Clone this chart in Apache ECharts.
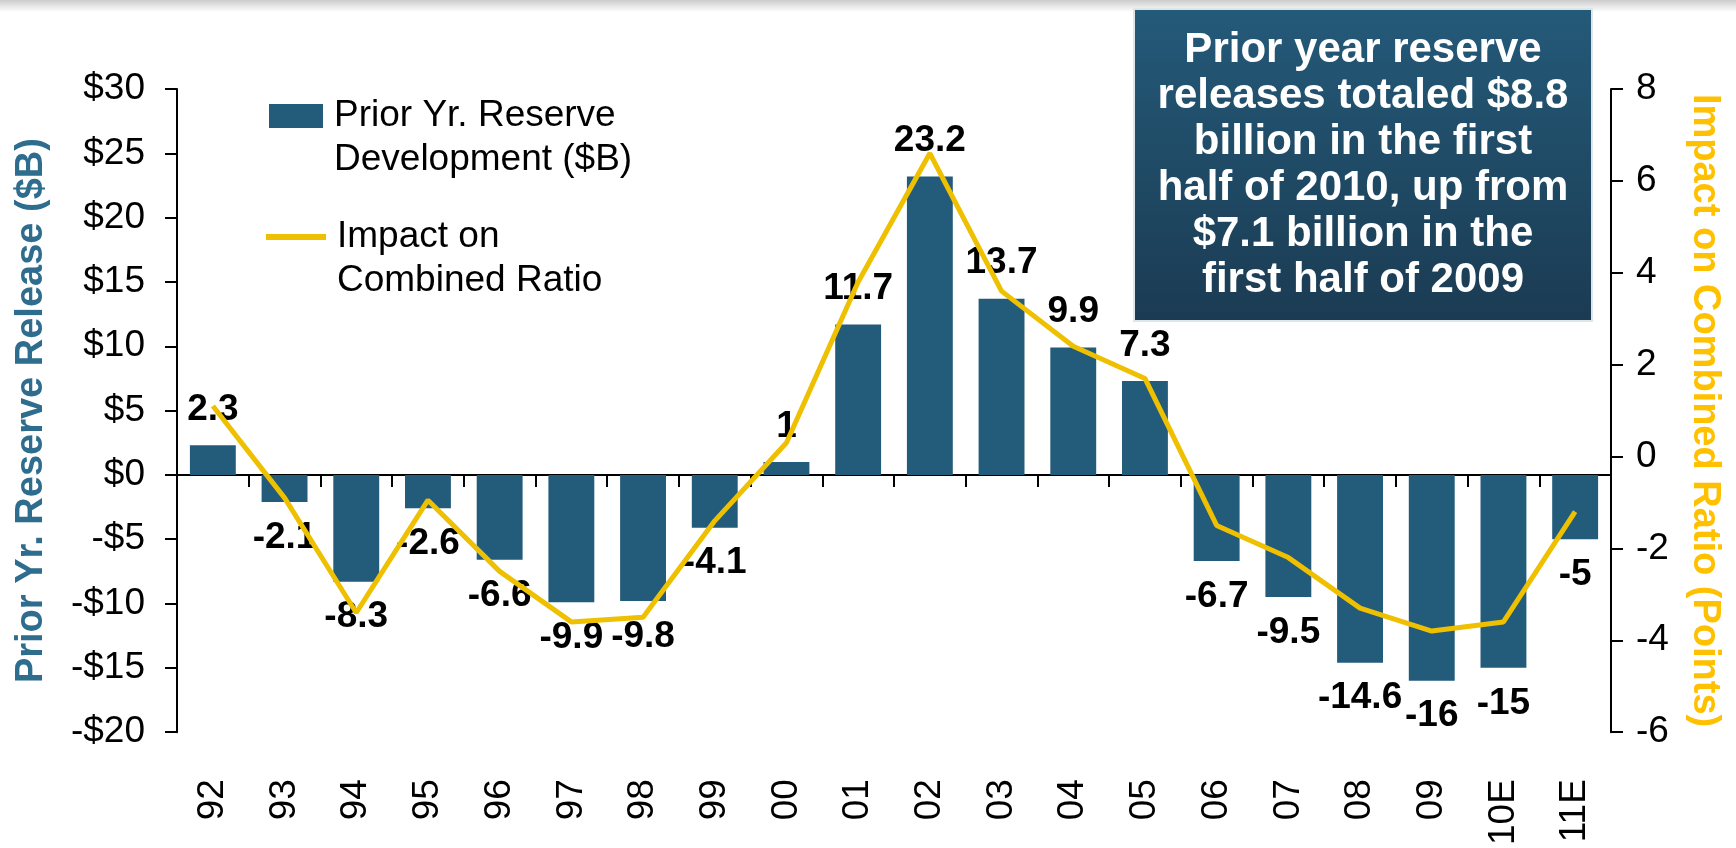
<!DOCTYPE html>
<html>
<head>
<meta charset="utf-8">
<script src="https://cdn.jsdelivr.net/npm/echarts@6/dist/echarts.min.js"></script>
<style>
    html, body { margin: 0; padding: 0; background: #fff; }
    #container { width: 1736px; height: 848px; }
</style>
</head>
<body>
<div id="container"></div>
<script>
// 数据
var years = ['92', '93', '94', '95', '96', '97', '98', '99', '00', '01',
    '02', '03', '04', '05', '06', '07', '08', '09', '10E', '11E'];
var reserveDev = [2.3, -2.1, -8.3, -2.6, -6.6, -9.9, -9.8, -4.1, 1, 11.7,
    23.2, 13.7, 9.9, 7.3, -6.7, -9.5, -14.6, -16, -15, -5];
var ratioImpact = [1.1, -0.9, -3.4, -0.95, -2.5, -3.6, -3.5, -1.4, 0.3, 3.8,
    6.6, 3.6, 2.4, 1.7, -1.5, -2.2, -3.3, -3.8, -3.6, -1.2];
var boxLines = ['Prior year reserve', 'releases totaled $8.8', 'billion in the first',
    'half of 2010, up from', '$7.1 billion in the', 'first half of 2009'];

var barName = 'Prior Yr. Reserve\nDevelopment ($B)';
var lineName = 'Impact on\nCombined Ratio';
var font = "'Liberation Sans', Arial, sans-serif";
var barColor = '#235b7a';
var lineColor = '#eec000';

function dollar(v) {
    return v < 0 ? '-$' + (-v) : '$' + v;
}

// 图例文字第一行与图标对齐
function legendFmt(name) {
    return '\n' + name;
}

var legendText = {
    fontFamily: font,
    fontSize: 37,
    color: '#000',
    lineHeight: 44,
    padding: [0, 0, 0, 6]
};

var dom = document.getElementById("container");
var myChart = echarts.init(dom);
var option = {
    animation: false,
    grid: { left: 177, right: 125, top: 89, bottom: 115 },
    legend: [
        {
            data: [barName], left: 269, top: 50, padding: 0,
            orient: 'vertical', icon: 'rect', itemWidth: 54, itemHeight: 24,
            selectedMode: false, formatter: legendFmt, textStyle: legendText
        },
        {
            data: [lineName], left: 266, top: 171, padding: 0,
            orient: 'vertical', icon: 'rect', itemWidth: 60, itemHeight: 6,
            selectedMode: false, formatter: legendFmt, textStyle: legendText,
            itemStyle: { color: lineColor }
        }
    ],
    xAxis: [
        {
            type: 'category',
            data: years,
            position: 'bottom',
            axisLine: { onZero: true, lineStyle: { color: '#000', width: 2 } },
            axisTick: { show: true, length: 12, lineStyle: { color: '#000', width: 2 } },
            axisLabel: { show: false }
        },
        {
            type: 'category',
            data: years,
            position: 'bottom',
            axisLine: { show: false, onZero: false },
            axisTick: { show: false },
            axisLabel: {
                rotate: 90, margin: 47, color: '#000',
                fontFamily: font, fontSize: 37
            }
        }
    ],
    yAxis: [
        {
            type: 'value',
            min: -20, max: 30, interval: 5,
            name: 'Prior Yr. Reserve Release ($B)',
            nameLocation: 'middle',
            nameGap: 126,
            nameTextStyle: { color: '#2e6d8e', fontFamily: font, fontSize: 38, fontWeight: 'bold' },
            axisLine: { show: true, lineStyle: { color: '#000', width: 2 } },
            axisTick: { show: true, length: 12, lineStyle: { color: '#000', width: 2 } },
            splitLine: { show: false },
            axisLabel: { formatter: dollar, margin: 32, color: '#000', fontFamily: font, fontSize: 37 }
        },
        {
            type: 'value',
            min: -6, max: 8, interval: 2,
            position: 'right',
            name: 'Impact on Combined Ratio (Points)',
            nameLocation: 'middle',
            nameRotate: -90,
            nameGap: 74,
            nameTextStyle: { color: '#ffc000', fontFamily: font, fontSize: 38, fontWeight: 'bold' },
            axisLine: { show: true, lineStyle: { color: '#000', width: 2 } },
            axisTick: { show: true, length: 12, lineStyle: { color: '#000', width: 2 } },
            splitLine: { show: false },
            axisLabel: { margin: 25, color: '#000', fontFamily: font, fontSize: 37 }
        }
    ],
    series: [
        {
            name: barName,
            type: 'bar',
            data: reserveDev,
            barWidth: '64%',
            itemStyle: { color: barColor },
            label: {
                show: true, position: 'outside', distance: 17,
                color: '#000', fontFamily: font, fontSize: 37, fontWeight: 'bold'
            }
        },
        {
            name: lineName,
            type: 'line',
            yAxisIndex: 1,
            data: ratioImpact,
            symbol: 'none',
            lineStyle: { color: lineColor, width: 5 },
            itemStyle: { color: lineColor }
        }
    ],
    graphic: [
        {
            type: 'rect',
            shape: { x: 0, y: 0, width: 1736, height: 12 },
            style: {
                fill: new echarts.graphic.LinearGradient(0, 0, 0, 1, [
                    { offset: 0, color: 'rgba(0,0,0,0.2)' },
                    { offset: 1, color: 'rgba(0,0,0,0)' }
                ])
            },
            silent: true
        },
        {
            type: 'group',
            left: 1133,
            top: 8,
            children: [
                {
                    type: 'rect',
                    shape: { x: 0, y: 0, width: 458, height: 312 },
                    style: {
                        fill: new echarts.graphic.LinearGradient(0, 0, 0, 1, [
                            { offset: 0, color: '#245a79' },
                            { offset: 1, color: '#1b3b52' }
                        ]),
                        stroke: '#dfe6ea',
                        lineWidth: 2
                    }
                },
                {
                    type: 'text',
                    x: 229,
                    y: 156,
                    style: {
                        text: boxLines.join('\n'),
                        fill: '#fff',
                        fontFamily: font,
                        fontSize: 42,
                        fontWeight: 'bold',
                        lineHeight: 46,
                        align: 'center',
                        verticalAlign: 'middle'
                    }
                }
            ]
        }
    ]
};

if (option && typeof option === 'object') {
    myChart.setOption(option);
}
</script>
</body>
</html>
